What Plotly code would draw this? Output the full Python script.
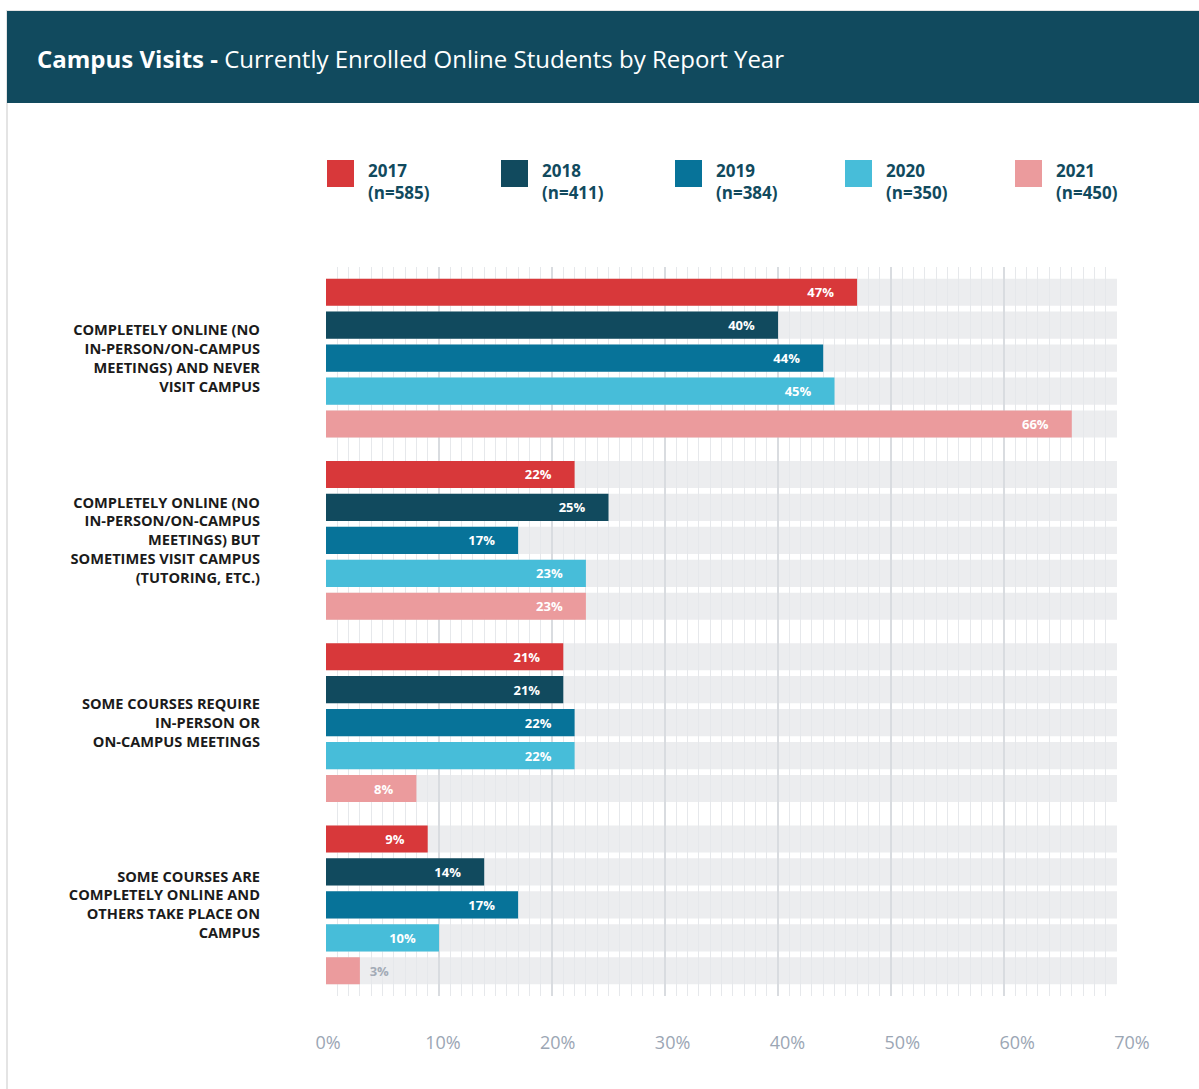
import plotly.graph_objects as go

# ---- data -------------------------------------------------------------
CATEGORIES = [
    "COMPLETELY ONLINE (NO<br>IN-PERSON/ON-CAMPUS<br>MEETINGS) AND NEVER<br>VISIT CAMPUS",
    "COMPLETELY ONLINE (NO<br>IN-PERSON/ON-CAMPUS<br>MEETINGS) BUT<br>SOMETIMES VISIT CAMPUS<br>(TUTORING, ETC.)",
    "SOME COURSES REQUIRE<br>IN-PERSON OR<br>ON-CAMPUS MEETINGS",
    "SOME COURSES ARE<br>COMPLETELY ONLINE AND<br>OTHERS TAKE PLACE ON<br>CAMPUS",
]
YEARS = ["2017", "2018", "2019", "2020", "2021"]
SAMPLE_SIZES = ["n=585", "n=411", "n=384", "n=350", "n=450"]
VALUES_2017 = [47, 22, 21, 9]
VALUES_2018 = [40, 25, 21, 14]
VALUES_2019 = [44, 17, 22, 17]
VALUES_2020 = [45, 23, 22, 10]
VALUES_2021 = [66, 23, 8, 3]
SERIES = [VALUES_2017, VALUES_2018, VALUES_2019, VALUES_2020, VALUES_2021]
X_TICKS = [0, 10, 20, 30, 40, 50, 60, 70]
AXIS_MAX = 70

# ---- styling ----------------------------------------------------------
COLORS = ["#d8383a", "#114a5e", "#077399", "#47bdd9", "#eb9b9d"]
HEADER_BG = "#114a5e"
TRACK = "#ecedef"
W, H = 1199, 1089
FONT = "Open Sans"


def px(x):
    return x / W


def py(y):
    return 1 - y / H


X_DOMAIN = [px(326), px(1117)]
X_LABEL_DOMAIN = [px(328), px(1132)]
Y_DOMAIN = [py(996), py(267)]
Y_RANGE = [len(CATEGORIES) - 0.5, -0.5]

fig = go.Figure()

# background tracks (bottom subplot, below the grid of the top subplot)
for yr in YEARS:
    fig.add_trace(go.Bar(
        x=[AXIS_MAX] * len(CATEGORIES), y=CATEGORIES, orientation="h",
        xaxis="x", yaxis="y", marker=dict(color=TRACK, line=dict(width=0)),
        hoverinfo="skip", showlegend=False,
    ))

# value bars
PAD_L = "\u00a0\u00a0"
PAD_R = "\u00a0" * 6
for yr, vals, col in zip(YEARS, SERIES, COLORS):
    fig.add_trace(go.Bar(
        x=vals, y=CATEGORIES, orientation="h", name=yr,
        xaxis="x2", yaxis="y2",
        marker=dict(color=col, line=dict(width=0)),
        text=[f"{PAD_L}<b>{v}%</b>{PAD_R}" for v in vals],
        textposition="auto", insidetextanchor="end",
        insidetextfont=dict(family=FONT, size=13, color="white"),
        outsidetextfont=dict(family=FONT, size=13, color="#a3abb6"),
        cliponaxis=False,
        showlegend=False,
        hovertemplate="%{x}%<extra>" + yr + "</extra>",
    ))

# carrier for the percentage tick labels
fig.add_trace(go.Scatter(x=[], y=[], xaxis="x3", yaxis="y",
                         showlegend=False, hoverinfo="skip"))

shapes = [
    # card outline and header band
    dict(type="rect", xref="paper", yref="paper", x0=px(7), x1=px(1215),
         y0=py(1100), y1=py(11), line=dict(color="#e4e4e4", width=2),
         fillcolor="rgba(0,0,0,0)", layer="below"),
    dict(type="rect", xref="paper", yref="paper", x0=px(7), x1=px(1215),
         y0=py(103), y1=py(11), line=dict(width=0), fillcolor=HEADER_BG,
         layer="below"),
]
annotations = [
    dict(text="<b>Campus Visits - </b>Currently Enrolled Online Students by Report Year",
         xref="paper", yref="paper", x=px(35), y=py(59), xanchor="left",
         yanchor="middle", showarrow=False,
         font=dict(family=FONT, size=24, color="white")),
]

# legend
LEGEND_X = [327, 501, 675, 845, 1015]
for lx, yr, n, col in zip(LEGEND_X, YEARS, SAMPLE_SIZES, COLORS):
    shapes.append(dict(type="rect", xref="paper", yref="paper",
                       x0=px(lx), x1=px(lx + 27), y0=py(187), y1=py(160),
                       line=dict(width=0), fillcolor=col))
    annotations.append(dict(
        text=f"<b>{yr}</b><br><b>({n})</b>", xref="paper", yref="paper",
        x=px(lx + 39), y=py(157), xanchor="left", yanchor="top", align="left",
        showarrow=False, font=dict(family=FONT, size=17, color=HEADER_BG)))

fig.update_layout(
    width=W, height=H,
    margin=dict(l=0, r=0, t=0, b=0),
    paper_bgcolor="white", plot_bgcolor="rgba(0,0,0,0)",
    barmode="group", bargap=0.095, bargroupgap=0.18,
    showlegend=False,
    shapes=shapes, annotations=annotations,
    font=dict(family=FONT),
    xaxis=dict(domain=X_DOMAIN, range=[0, AXIS_MAX], anchor="y",
               showgrid=False, zeroline=False, showticklabels=False,
               fixedrange=True),
    yaxis=dict(domain=Y_DOMAIN, type="category", categoryarray=CATEGORIES,
               range=Y_RANGE, anchor="x", showgrid=False, zeroline=False,
               showticklabels=False, fixedrange=True),
    xaxis2=dict(domain=X_DOMAIN, range=[0, AXIS_MAX], anchor="y2",
                showgrid=True, gridcolor="#d9dce0", gridwidth=1.5, dtick=10,
                minor=dict(dtick=1, showgrid=True, gridcolor="#e6e8eb",
                           gridwidth=1.2),
                zeroline=False, showticklabels=False, fixedrange=True),
    yaxis2=dict(domain=Y_DOMAIN, type="category", categoryarray=CATEGORIES,
                range=Y_RANGE, anchor="x2", showgrid=False, zeroline=False,
                ticks="", ticklabelstandoff=65, automargin=False,
                tickfont=dict(family=FONT, size=14.6, color="#1b1b1b",
                              weight="bold"),
                fixedrange=True),
    xaxis3=dict(domain=X_LABEL_DOMAIN, range=[0, AXIS_MAX], anchor="y",
                tickvals=X_TICKS, ticktext=[f"{t}%" for t in X_TICKS],
                showgrid=False, zeroline=False, ticks="",
                ticklabelstandoff=34, automargin=False,
                tickfont=dict(family=FONT, size=18, color="#9ba6b4",
                              weight="normal"),
                fixedrange=True),
)

fig.write_html("out.html")
